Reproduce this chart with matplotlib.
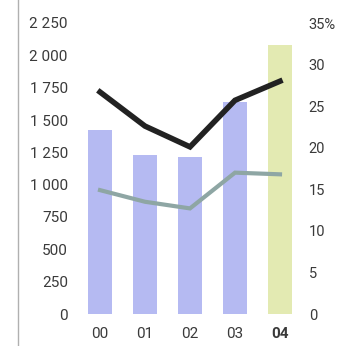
import matplotlib
matplotlib.use('Agg')
import matplotlib.pyplot as plt
from matplotlib.lines import Line2D

plt.rcParams['font.family'] = ['Roboto', 'DejaVu Sans']

# yearly figures
years = ['00', '01', '02', '03', '04']
volume = [1420, 1230, 1215, 1640, 2080]
share_top = [26.7, 22.6, 20.1, 25.7, 28.0]
share_low = [14.9, 13.5, 12.7, 17.0, 16.8]

left_ticks = [0, 250, 500, 750, 1000, 1250, 1500, 1750, 2000, 2250]
left_labels = ['0', '250', '500', '750', '1 000', '1 250', '1 500', '1 750', '2 000', '2 250']
right_ticks = [0, 5, 10, 15, 20, 25, 30, 35]
right_labels = ['0', '5', '10', '15', '20', '25', '30', '35%']

W, H = 337, 346
fig = plt.figure(figsize=(W / 100, H / 100), dpi=100)
ax = fig.add_axes([77.5 / W, (H - 314) / H, 225 / W, 291 / H])

bar_colors = ['#b5baf2'] * 4 + ['#e3eab2']
x = range(len(years))
ax.bar(x, volume, width=0.54, color=bar_colors, zorder=1)
ax.set_xlim(-0.5, 4.5)
ax.set_ylim(0, 2250)
ax.set_yticks(left_ticks)
ax.set_yticklabels(left_labels)
ax.set_xticks(list(x))
ax.set_xticklabels(years)
ax.get_xticklabels()[-1].set_fontweight('bold')

ax2 = ax.twinx()
ax2.plot(x, share_top, color='#222222', lw=4.0, solid_joinstyle='miter', zorder=3)
ax2.plot(x, share_low, color='#8ea6a4', lw=3.0, solid_joinstyle='miter', zorder=3)
ax2.set_ylim(0, 35)
ax2.set_yticks(right_ticks)
ax2.set_yticklabels(right_labels)

for a in (ax, ax2):
    for s in a.spines.values():
        s.set_visible(False)
    a.tick_params(length=0, labelsize=11, colors='#3a3a3a')
ax.tick_params(axis='y', pad=7)
ax.tick_params(axis='x', pad=9)
ax2.tick_params(axis='y', pad=4.5, labelsize=10.5)

# thin rule on the left edge
fig.add_artist(Line2D([18 / W, 18 / W], [0, 1], color='#b0b0b0', lw=1))

fig.savefig('out.png', dpi=100)
